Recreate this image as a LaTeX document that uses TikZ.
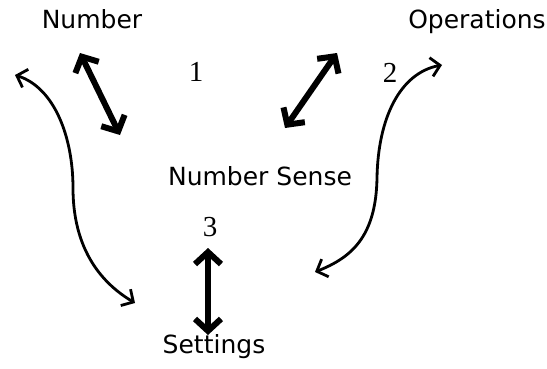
\documentclass[tikz,border=0pt]{standalone}
\usepackage{fontspec}
\setmainfont{DejaVu Sans}
\newfontfamily\numfont{Liberation Serif}
\usetikzlibrary{arrows.meta}

\tikzset{
  lbl/.style = {font=\fontsize{25}{30}\selectfont, inner sep=0pt, anchor=base},
  numlbl/.style = {font=\numfont\fontsize{29}{34}\selectfont, inner sep=0pt, anchor=base},
  bigtip/.tip = {Straight Barb[length=12pt,width=26pt,line width=6pt]},
  smalltip/.tip = {Straight Barb[length=9pt,width=19pt,line width=2.8pt]},
  thick arrow/.style = {line width=6pt, bigtip-bigtip},
  thin arrow/.style = {line width=2.8pt, smalltip-smalltip}
}

\begin{document}
\begin{tikzpicture}[x = 1pt, y = 1pt]
\useasboundingbox (0,0) rectangle (547,368);
\node [lbl] (num) at (92,340) {Number};
\node [lbl] (ops) at (477,340) {Operations};
\node [lbl] (sense) at (260,183) {Number Sense};
\node [lbl] (set) at (214,15) {Settings};
\node [numlbl] (one) at (196,287) {1};
\node [numlbl] (two) at (390,286) {2};
\node [numlbl] (three) at (210,132) {3};
\coordinate (numend) at (80,315);
\coordinate (sensea) at (120,233);
\coordinate (opsend) at (337,315);
\coordinate (senseb) at (285,240);
\coordinate (threeend) at (208,120);
\coordinate (setend) at (208,33);
\coordinate (leftup) at (15,293);
\coordinate (leftdown) at (135,65);
\coordinate (rightup) at (442,303);
\coordinate (rightdown) at (315,96);
\draw [thick arrow] (numend) -- (sensea);
\draw [thick arrow] (opsend) -- (senseb);
\draw [thick arrow] (threeend) -- (setend);
\draw [thin arrow] (leftup) .. controls (55,280) and (73,230) .. (73,180) .. controls (73,110) and (110,80) .. (leftdown);
\draw [thin arrow] (rightup) .. controls (400,295) and (378,250) .. (377,190) .. controls (376,130) and (350,110) .. (rightdown);
\end{tikzpicture}
\end{document}
